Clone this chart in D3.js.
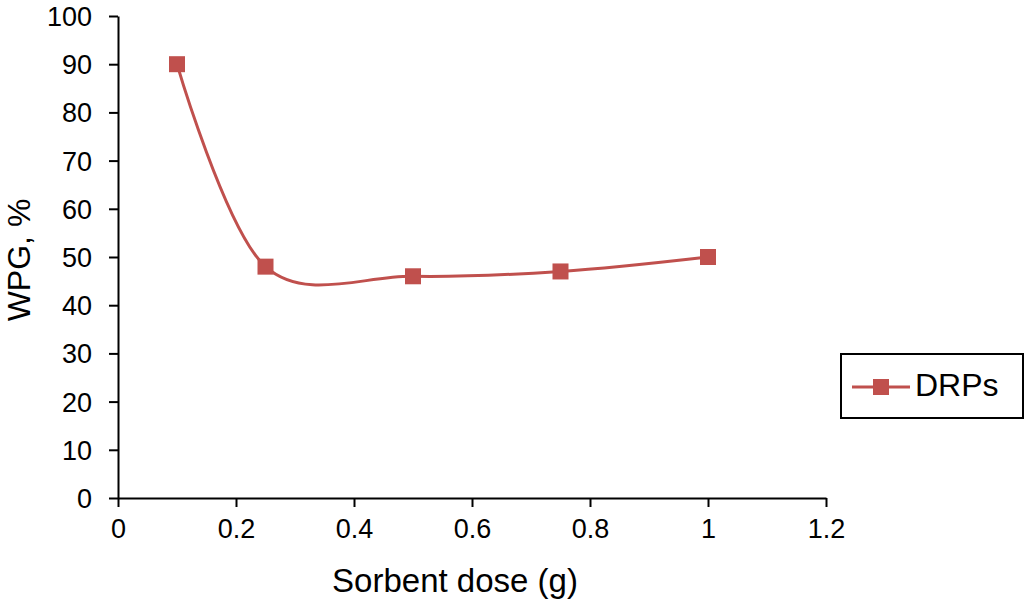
<!DOCTYPE html>
<html><head><meta charset="utf-8">
<script src="https://cdn.jsdelivr.net/npm/d3@7"></script>
<style>body{margin:0;background:#fff}svg{display:block}text{font-family:"Liberation Sans",Arial,sans-serif;fill:#000}</style>
</head><body>
<svg id="c" width="1024" height="603"></svg>
<script>
const doses = [0.1, 0.25, 0.5, 0.75, 1];
const wpg = [90, 48, 46, 47, 50];
const xTicks = [0, 0.2, 0.4, 0.6, 0.8, 1, 1.2];
const yTicks = [0, 10, 20, 30, 40, 50, 60, 70, 80, 90, 100];
const seriesName = "DRPs";
const color = "#c0504d";

const svg = d3.select("#c");
const x = d3.scaleLinear().domain([0, 1.2]).range([118, 826]);
const y = d3.scaleLinear().domain([0, 100]).range([498, 16]);

const xa = svg.append("g").attr("transform", "translate(0,498)")
  .call(d3.axisBottom(x).tickValues(xTicks).tickFormat(d => String(d)).tickSize(9).tickSizeOuter(0).tickPadding(12));
const ya = svg.append("g").attr("transform", "translate(118,0)")
  .call(d3.axisLeft(y).tickValues(yTicks).tickSize(9).tickSizeOuter(0).tickPadding(17));
[xa, ya].forEach(g => {
  g.select(".domain").attr("stroke", "#000").attr("stroke-width", 2);
  g.selectAll(".tick line").attr("stroke", "#000").attr("stroke-width", 2);
  g.selectAll(".tick text").style("font-size", "27px").attr("fill", "#000");
});
ya.selectAll(".tick text").attr("dy", "0.35em");

const pts = doses.map((d, i) => [d, wpg[i]]);
const line = d3.line().x(d => x(d[0])).y(d => y(d[1])).curve(d3.curveCardinal.tension(0));
svg.append("path").attr("d", line(pts)).attr("fill", "none").attr("stroke", color).attr("stroke-width", 3);
svg.selectAll("rect.m").data(pts).enter().append("rect").attr("class", "m")
  .attr("x", d => x(d[0]) - 8).attr("y", d => y(d[1]) - 8).attr("width", 16).attr("height", 16).attr("fill", color);

svg.append("text").attr("x", 455).attr("y", 592).attr("text-anchor", "middle").style("font-size", "33px").text("Sorbent dose (g)");
svg.append("text").attr("transform", "translate(30,260) rotate(-90)").attr("text-anchor", "middle").style("font-size", "32px").text("WPG, %");

const lg = svg.append("g");
lg.append("rect").attr("x", 841).attr("y", 354).attr("width", 182).attr("height", 64).attr("fill", "#fff").attr("stroke", "#000").attr("stroke-width", 2);
lg.append("line").attr("x1", 852).attr("x2", 910).attr("y1", 387).attr("y2", 387).attr("stroke", color).attr("stroke-width", 3);
lg.append("rect").attr("x", 873).attr("y", 379).attr("width", 16).attr("height", 16).attr("fill", color);
lg.append("text").attr("x", 915).attr("y", 396).style("font-size", "32px").text(seriesName);
</script>
</body></html>
